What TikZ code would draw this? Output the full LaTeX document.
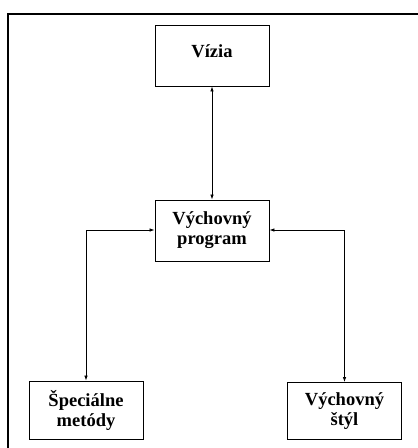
\documentclass[tikz,border=0pt]{standalone}
\usepackage{fontspec}
\setmainfont{Liberation Serif}
\usetikzlibrary{arrows.meta}
\begin{document}
\begin{tikzpicture}[x=1pt,y=-1pt,
  box/.style={draw, line width=0.9pt, minimum width=114pt, align=center, font=\fontsize{18.5}{20}\selectfont\bfseries, inner sep=0pt},
  conn/.style={line width=0.7pt, {Latex[length=5pt,width=3.5pt]}-{Latex[length=5pt,width=3.5pt]}}]
\useasboundingbox (0,0) rectangle (418,448);
\draw[line width=2pt] (8,460) -- (8,14) -- (430,14);
\node[box, minimum height=61pt] (viz) at (212,55.5) {};
\node[font=\fontsize{18.5}{20}\selectfont\bfseries, inner sep=0pt] (viztext) at (212,51) {Vízia};
\node[box, minimum height=61pt] (prog) at (212,230.5) {Výchovný\\program};
\node[box, minimum height=58pt] (spec) at (86,410) {Špeciálne\\metódy};
\node[box, minimum height=57pt] (styl) at (344.5,411) {Výchovný\\štýl};
\coordinate (cl) at (86,230);
\coordinate (cr) at (344.5,230);
\draw[conn] (viz.south) -- (prog.north);
\draw[conn] (prog.west |- cl) -- (cl) -- (spec.north);
\draw[conn] (prog.east |- cr) -- (cr) -- (styl.north);
\end{tikzpicture}
\end{document}
